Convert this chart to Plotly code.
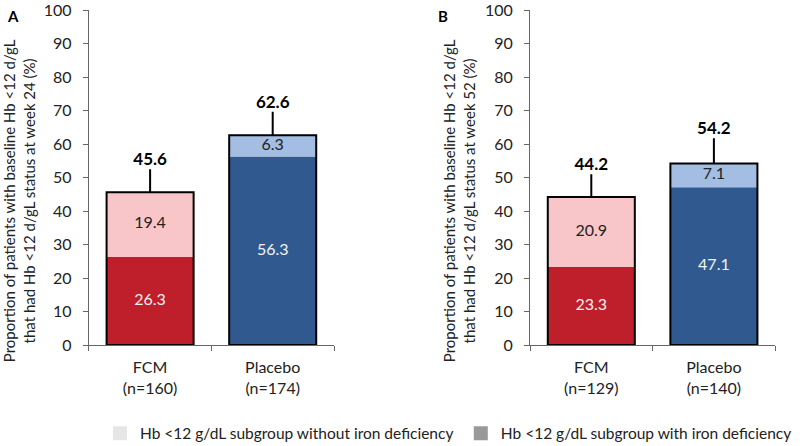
import plotly.graph_objects as go

# data
groups_a = ["FCM<br>(n=160)", "Placebo<br>(n=174)"]
groups_b = ["FCM<br>(n=129)", "Placebo<br>(n=140)"]

with_id_a = [26.3, 56.3]
without_id_a = [19.4, 6.3]
total_a = [45.6, 62.6]
err_a = [6.9, 7.0]

with_id_b = [23.3, 47.1]
without_id_b = [20.9, 7.1]
total_b = [44.2, 54.2]
err_b = [6.8, 7.5]

y_ticks = [0, 10, 20, 30, 40, 50, 60, 70, 80, 90, 100]

title_a = "Proportion of patients with baseline Hb <12 d/gL<br>that had Hb <12 d/gL status at week 24 (%)"
title_b = "Proportion of patients with baseline Hb <12 d/gL<br>that had Hb <12 d/gL status at week 52 (%)"

dark_cols = ["#BF1F2A", "#305A8F"]
light_cols = ["#F8C6C8", "#A3BDE3"]

FONT = "Lato, Open Sans, sans-serif"
W = 0.71

fig = go.Figure()


def add_panel(fig, cats, bottom, top, total, err, xa, ya):
    # iron deficiency part (bottom)
    fig.add_trace(go.Bar(x=cats, y=bottom, width=W, marker=dict(color=dark_cols, line_width=0),
                         showlegend=False, xaxis=xa, yaxis=ya))
    # without iron deficiency part (top)
    fig.add_trace(go.Bar(x=cats, y=top, base=bottom, width=W, marker=dict(color=light_cols, line_width=0),
                         showlegend=False, xaxis=xa, yaxis=ya))
    # outline of the whole bar + error bar
    fig.add_trace(go.Bar(x=cats, y=total, width=W,
                         marker=dict(color="rgba(0,0,0,0)", line=dict(color="black", width=2)),
                         error_y=dict(type="data", array=err, arrayminus=[0, 0], symmetric=False,
                                      color="black", thickness=2, width=0),
                         showlegend=False, hoverinfo="skip", xaxis=xa, yaxis=ya))
    # segment labels
    fig.add_trace(go.Scatter(x=cats, y=[b / 2 for b in bottom], mode="text",
                             text=[f"{v:.1f}" for v in bottom], textposition="middle center",
                             textfont=dict(size=16, family=FONT, color="#F2F2F2"),
                             showlegend=False, hoverinfo="skip", xaxis=xa, yaxis=ya))
    fig.add_trace(go.Scatter(x=cats, y=[b + t / 2 for b, t in zip(bottom, top)], mode="text",
                             text=[f"{v:.1f}" for v in top], textposition="middle center",
                             textfont=dict(size=16, family=FONT, color="#222"),
                             showlegend=False, hoverinfo="skip", xaxis=xa, yaxis=ya))
    # total labels above the error bars
    fig.add_trace(go.Scatter(x=cats, y=[t + e for t, e in zip(total, err)], mode="text",
                             text=[f"<b>{v:.1f}</b>" for v in total], textposition="top center",
                             textfont=dict(size=17, family=FONT, color="black"),
                             showlegend=False, hoverinfo="skip", xaxis=xa, yaxis=ya))


add_panel(fig, groups_a, with_id_a, without_id_a, total_a, err_a, "x", "y")
add_panel(fig, groups_b, with_id_b, without_id_b, total_b, err_b, "x2", "y2")

# legend entries (gray squares), one legend box each
fig.add_trace(go.Scatter(x=[None], y=[None], mode="markers", name="Hb <12 g/dL subgroup without iron deficiency",
                         marker=dict(symbol="square", size=14, color="#E6E6E6"), legend="legend"))
fig.add_trace(go.Scatter(x=[None], y=[None], mode="markers", name="Hb <12 g/dL subgroup with iron deficiency",
                         marker=dict(symbol="square", size=14, color="#999999"), legend="legend2"))

xax = dict(showline=True, linecolor="#666", linewidth=1, ticks="outside", tickson="boundaries",
           ticklen=5, tickcolor="#666", tickfont=dict(size=16, family=FONT, color="#222"),
           ticklabelstandoff=8, showgrid=False, fixedrange=True)
yax = dict(range=[0, 100], tickvals=y_ticks, showline=True, linecolor="#666", linewidth=1, ticks="outside",
           ticklen=5, tickcolor="#666", showgrid=False, zeroline=False, ticklabelstandoff=8,
           ticklabeloverflow="allow", fixedrange=True,
           tickfont=dict(size=16, family=FONT, color="#222"), automargin=False)
leg = dict(orientation="h", xanchor="left", y=-0.265, yanchor="middle",
           font=dict(size=15.5, family=FONT, color="#222"), itemwidth=30, bgcolor="rgba(0,0,0,0)")

fig.update_layout(
    barmode="overlay",
    width=800, height=446,
    margin=dict(l=0, r=0, t=10, b=101, autoexpand=False),
    plot_bgcolor="white", paper_bgcolor="white",
    font=dict(family=FONT, color="#222"),
    xaxis=dict(xax, domain=[0.111, 0.4175], anchor="y"),
    xaxis2=dict(xax, domain=[0.6625, 0.969], anchor="y2"),
    yaxis=dict(yax, anchor="x"),
    yaxis2=dict(yax, anchor="x2"),
    legend=dict(leg, x=0.125),
    legend2=dict(leg, x=0.576),
    annotations=[
        dict(text="<b>A</b>", x=0.006, y=1.0, xref="paper", yref="paper", showarrow=False,
             xanchor="left", yanchor="top", yshift=5, font=dict(size=15, family=FONT, color="black")),
        dict(text="<b>B</b>", x=0.545, y=1.0, xref="paper", yref="paper", showarrow=False,
             xanchor="left", yanchor="top", yshift=5, font=dict(size=15, family=FONT, color="black")),
        dict(text=title_a, x=0.024, y=0.43, xref="paper", yref="paper", showarrow=False,
             textangle=-90, xanchor="center", yanchor="middle",
             font=dict(size=15, family=FONT, color="#222")),
        dict(text=title_b, x=0.574, y=0.43, xref="paper", yref="paper", showarrow=False,
             textangle=-90, xanchor="center", yanchor="middle",
             font=dict(size=15, family=FONT, color="#222")),
    ],
)

# the page has a default body margin; drop it so the figure fills the window
fig.write_html("out.html", config={"displayModeBar": False},
               post_script="document.body.style.margin='0';")
